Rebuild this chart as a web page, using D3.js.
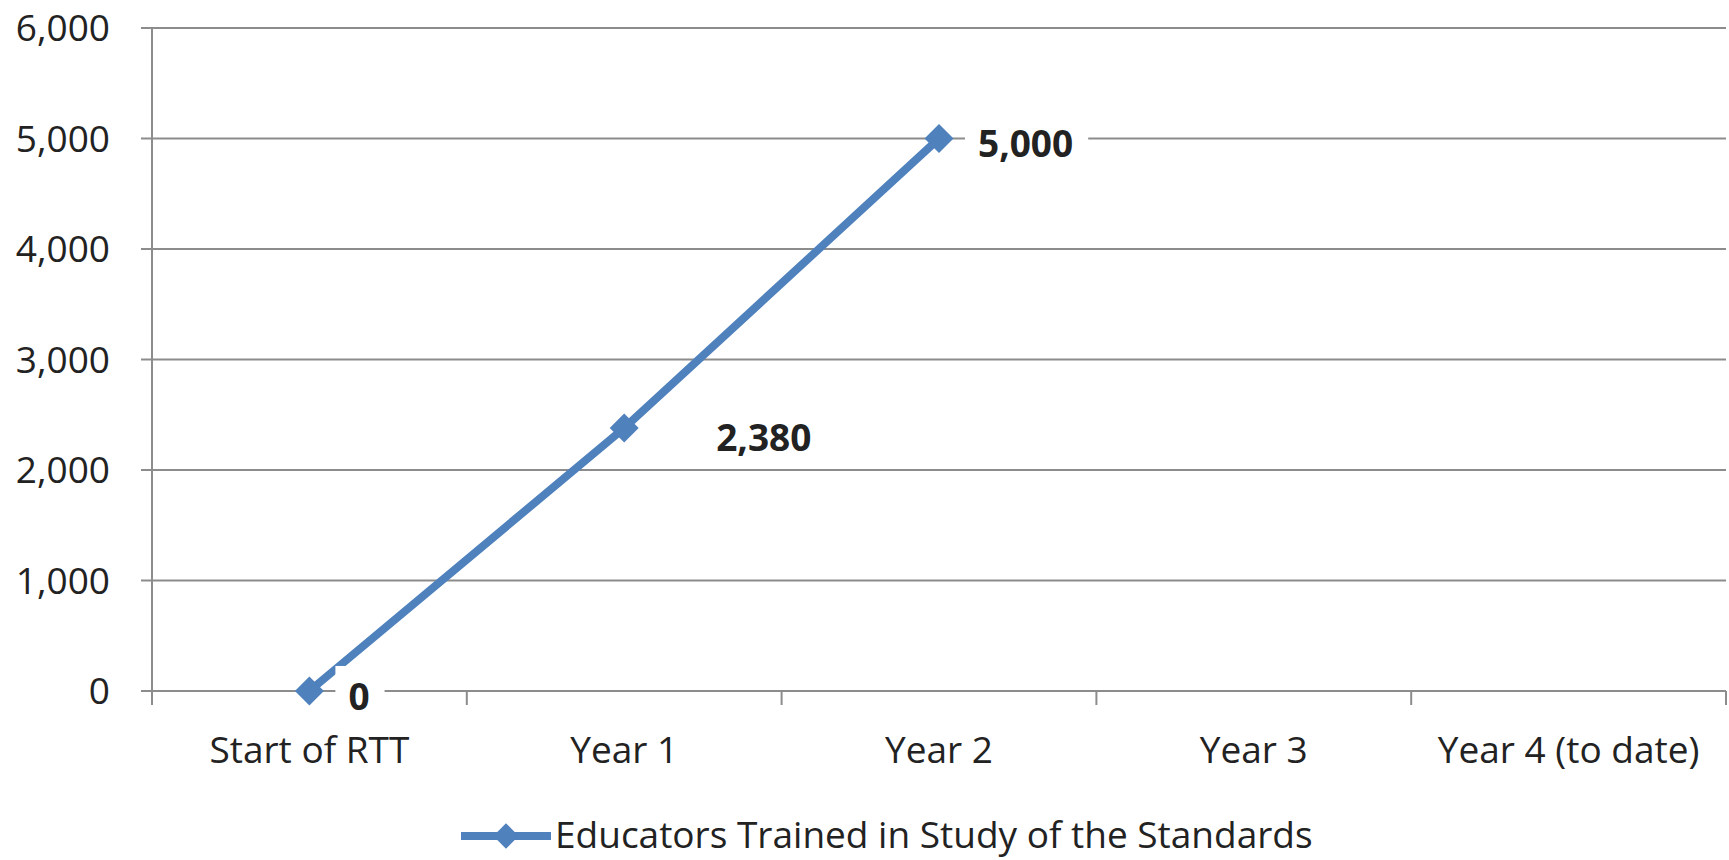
<!DOCTYPE html>
<meta charset="utf-8">
<style>
body { margin: 0; background: #fff; }
svg text { font-family: "Open Sans", sans-serif; fill: #222; }
</style>
<body>
<svg width="1729" height="860"></svg>
<script src="https://d3js.org/d3.v7.min.js"></script>
<script>

var categories = ["Start of RTT", "Year 1", "Year 2", "Year 3", "Year 4 (to date)"];
var values = [0, 2380, 5000];
var yTicks = [0, 1000, 2000, 3000, 4000, 5000, 6000];
var seriesName = "Educators Trained in Study of the Standards";

// label nudges (px), Excel-style manual placement
var labelDx = [39, 92, 39];
var labelDy = [6, 10, 6];

var svg = d3.select("svg"),
  plotL = 152, plotR = 1726, plotT = 28, plotB = 691,
  blue = "#4f81bd", grid = "#8c8c8c";

var x = d3.scaleBand().domain(categories).range([plotL, plotR]).padding(0);
var y = d3.scaleLinear().domain([0, 6000]).range([plotB, plotT]);

// gridlines
svg.append("g").selectAll("line").data(yTicks).enter().append("line")
  .attr("x1", plotL - 11).attr("x2", plotR)
  .attr("y1", function(d) { return y(d); }).attr("y2", function(d) { return y(d); })
  .attr("stroke", grid).attr("stroke-width", 2);

// y axis
var yAxis = d3.axisLeft(y).tickValues(yTicks).tickSize(0).tickPadding(42)
  .tickFormat(d3.format(","));
var yg = svg.append("g").attr("transform", "translate(" + plotL + ",0)").call(yAxis);
yg.select(".domain").remove();
yg.selectAll("text").style("font-size", "37px").attr("dy", "0.35em");

svg.append("line").attr("x1", plotL).attr("x2", plotL).attr("y1", plotT).attr("y2", plotB + 14)
  .attr("stroke", grid).attr("stroke-width", 2);

// x axis category boundary ticks
var edges = categories.map(function(c) { return x(c); }).concat([plotR]);
svg.append("g").selectAll("line").data(edges).enter().append("line")
  .attr("x1", function(d) { return d; }).attr("x2", function(d) { return d; })
  .attr("y1", plotB).attr("y2", plotB + 14)
  .attr("stroke", grid).attr("stroke-width", 2);

var xAxis = d3.axisBottom(x).tickSize(0).tickPadding(0);
var xg = svg.append("g").attr("transform", "translate(0," + plotB + ")").call(xAxis);
xg.select(".domain").remove();
xg.selectAll("text").style("font-size", "37px").attr("y", 59).attr("dy", "0.35em");

// series
var pts = values.map(function(v, i) {
  return { cat: categories[i], v: v, i: i };
});
var px = function(d) { return x(d.cat) + x.bandwidth() / 2; };

svg.append("path").datum(pts)
  .attr("fill", "none").attr("stroke", blue).attr("stroke-width", 8)
  .attr("d", d3.line().x(px).y(function(d) { return y(d.v); }));

// data labels with white boxes
var fmt = d3.format(",");
var lab = svg.append("g").selectAll("g").data(pts).enter().append("g");
lab.append("text")
  .attr("x", function(d) { return px(d) + labelDx[d.i]; })
  .attr("y", function(d) { return y(d.v) + labelDy[d.i]; })
  .attr("dy", "0.35em")
  .style("font-size", "37px").style("font-weight", "bold")
  .text(function(d) { return fmt(d.v); });
lab.insert("rect", "text").each(function() {
  var t = d3.select(this.parentNode).select("text").node().getBBox();
  d3.select(this).attr("x", t.x - 13).attr("y", t.y - 4)
    .attr("width", t.width + 28).attr("height", t.height + 8).attr("fill", "#fff");
});

var diamond = d3.symbol().type(d3.symbolSquare).size(420);
svg.append("g").selectAll("path").data(pts).enter().append("path")
  .attr("d", diamond)
  .attr("transform", function(d) { return "translate(" + px(d) + "," + y(d.v) + ") rotate(45)"; })
  .attr("fill", blue);

// legend
var lg = svg.append("g").attr("transform", "translate(461,836)");
lg.append("line").attr("x1", 0).attr("x2", 90).attr("stroke", blue).attr("stroke-width", 8);
lg.append("path").attr("d", d3.symbol().type(d3.symbolSquare).size(320))
  .attr("transform", "translate(45,0) rotate(45)").attr("fill", blue);
lg.append("text").attr("x", 94).attr("dy", "0.33em").style("font-size", "37px").text(seriesName);

</script>
</body>
